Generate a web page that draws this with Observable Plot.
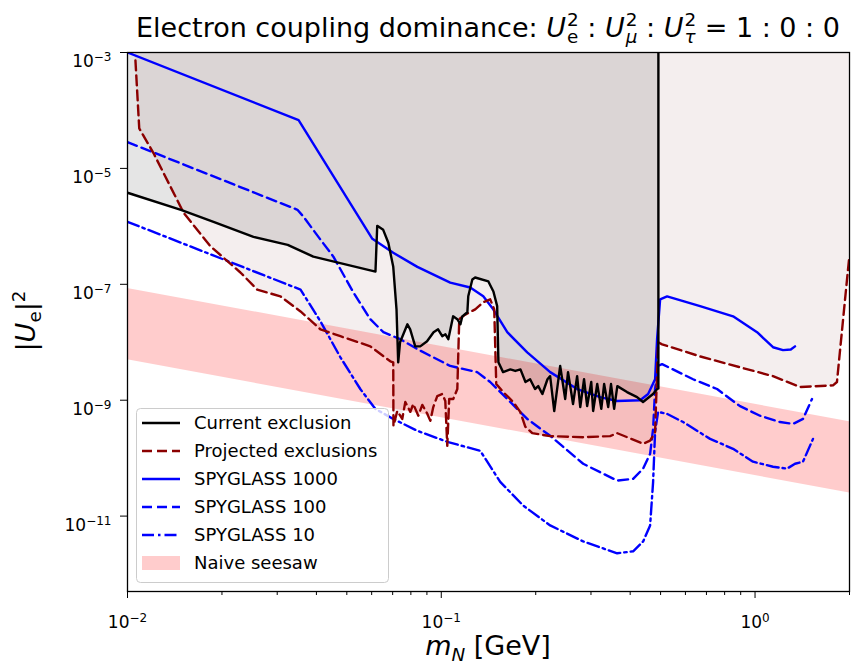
<!DOCTYPE html>
<html>
<head>
<meta charset="utf-8">
<script src="https://cdn.jsdelivr.net/npm/d3@7"></script>
<script src="https://cdn.jsdelivr.net/npm/@observablehq/plot@0.6"></script>
<style>
  html, body { margin: 0; padding: 0; background: white; }
  #wrap { position: relative; width: 852px; height: 668px; font-family: "DejaVu Sans", sans-serif; color: black; }
  .title { position: absolute; left: 127px; width: 722px; top: 11px; text-align: center; font-size: 27px; line-height: 32px; white-space: nowrap; }
  .it { font-style: italic; }
  .ss { display: inline-flex; flex-direction: column; font-size: 0.68em; line-height: 0.95; vertical-align: 0.58em; margin-left: 1px; text-align: left; }
  .ylab { position: absolute; left: 27px; top: 321px; transform: translate(-50%, -50%) rotate(-90deg); font-size: 27px; line-height: 32px; white-space: nowrap; }
  .xlab { position: absolute; left: 488px; top: 630px; transform: translateX(-50%); font-size: 27px; white-space: nowrap; line-height: 32px; }
  sub, sup { font-size: 0.68em; }
</style>
</head>
<body>
<div id="wrap">
  <div id="chart"></div>
  <div class="title">Electron coupling dominance: <span class="it">U</span><span class="ss"><span>2</span><span>e</span></span> : <span class="it">U</span><span class="ss"><span>2</span><span class="it">μ</span></span> : <span class="it">U</span><span class="ss"><span>2</span><span class="it">τ</span></span> = 1 : 0 : 0</div>
  <div class="ylab">|<span class="it">U</span><sub>e</sub>|<sup>2</sup></div>
  <div class="xlab"><span class="it">m</span><sub class="it">N</sub> [GeV]</div>
</div>
<script>
// ---- data ----
const yTop = 1e-3;

const currentExclusion = [
  [0.01, 3.8e-6], [0.0148, 1.93e-6], [0.0188, 1.2e-6], [0.0252, 6.6e-7], [0.0324, 4.8e-7],
  [0.0391, 3.0e-7], [0.0617, 1.66e-7], [0.0625, 1.02e-6], [0.0653, 8.7e-7], [0.0678, 5.2e-7],
  [0.0703, 2.0e-7], [0.0720, 3.7e-8], [0.0729, 4.5e-9], [0.0739, 1.0e-8], [0.0780, 2.04e-8],
  [0.0796, 1.67e-8], [0.0826, 8.5e-9], [0.0857, 8.5e-9], [0.0901, 1.04e-8], [0.0945, 1.49e-8],
  [0.0977, 1.67e-8], [0.1007, 1.27e-8], [0.1031, 1.37e-8], [0.1053, 1.13e-8], [0.1091, 2.8e-8],
  [0.1125, 2.5e-8], [0.1151, 2.04e-8], [0.1167, 2.8e-8], [0.1211, 3.3e-8], [0.1219, 6.2e-8],
  [0.1256, 1.21e-7], [0.1282, 1.31e-7], [0.1413, 1.12e-7], [0.1466, 7.5e-8], [0.1507, 4.2e-8],
  [0.1521, 4.5e-9], [0.1574, 3.05e-9], [0.166, 3.4e-9], [0.1722, 3.2e-9], [0.1788, 3.4e-9],
  [0.1855, 2.06e-9], [0.1919, 2.3e-9], [0.199, 1.56e-9], [0.2037, 1.75e-9], [0.21, 1.28e-9],
  [0.218, 2.3e-9], [0.2223, 2.6e-9], [0.2291, 6.5e-10], [0.2393, 3.9e-9], [0.2483, 1.05e-9],
  [0.2535, 3.05e-9], [0.263, 8.6e-10], [0.271, 2.6e-9], [0.2773, 7.6e-10], [0.2851, 2.3e-9],
  [0.2917, 7.9e-10], [0.3006, 2.06e-9], [0.3048, 6.5e-10], [0.3141, 1.9e-9], [0.3236, 7.1e-10],
  [0.3304, 1.9e-9], [0.3404, 7.6e-10], [0.3475, 1.9e-9], [0.3556, 7.1e-10], [0.364, 1.75e-9],
  [0.3908, 1.38e-9], [0.4207, 1.13e-9], [0.4395, 9.3e-10], [0.473, 1.28e-9], [0.4875, 1.56e-9],
  [0.492, 1.6e-9], [0.492, 1e-3]
];

const projectedExclusions = [
  [0.0106, 7.3e-4], [0.0109, 4.9e-5], [0.0121, 1.84e-5], [0.0151, 1.71e-6], [0.0184, 4.5e-7],
  [0.0229, 1.6e-7], [0.0259, 8.1e-8], [0.0307, 6.2e-8], [0.0356, 3.4e-8], [0.0412, 1.67e-8],
  [0.0477, 1.27e-8], [0.0594, 8.5e-9], [0.0688, 4.7e-9], [0.0703, 4.5e-9], [0.0704, 3.6e-10],
  [0.0724, 6.5e-10], [0.0751, 4.75e-10], [0.0768, 9.3e-10], [0.0797, 6.3e-10], [0.0814, 8.6e-10],
  [0.0845, 5.4e-10], [0.0870, 8.3e-10], [0.0903, 5.8e-10], [0.0923, 4.4e-10], [0.0943, 7.6e-10],
  [0.0971, 1.18e-9], [0.1007, 1.28e-9], [0.1030, 9.7e-10], [0.1045, 1.63e-10], [0.1060, 1.05e-9],
  [0.1092, 1.05e-9], [0.1125, 1.56e-9], [0.1141, 2.5e-8], [0.1192, 3.0e-8], [0.1283, 3.7e-8],
  [0.1361, 4.9e-8], [0.1432, 5.5e-8], [0.1475, 3.7e-8], [0.1497, 1.9e-9], [0.1576, 1.38e-9],
  [0.1696, 9.3e-10], [0.1785, 6.3e-10], [0.1852, 3.5e-10], [0.1950, 2.7e-10], [0.2224, 2.4e-10],
  [0.2833, 2.3e-10], [0.3452, 2.4e-10], [0.3635, 2.7e-10], [0.3912, 2.3e-10], [0.4399, 1.77e-10],
  [0.4630, 2.0e-10], [0.4802, 2.8e-10], [0.4910, 1.0e-8], [0.5055, 9.2e-9], [0.668, 5.7e-9],
  [0.896, 3.7e-9], [1.141, 2.6e-9], [1.391, 1.69e-9], [1.772, 1.8e-9], [1.824, 2.06e-9],
  [1.978, 1.8e-7], [1.995, 2.8e-7]
];

const spyglass1000 = [
  [0.01, 1e-3], [0.0351, 6.8e-5], [0.0603, 6.1e-7], [0.0703, 3.5e-7], [0.0839, 2.0e-7],
  [0.1068, 1.07e-7], [0.1237, 8.8e-8], [0.1361, 6.2e-8], [0.1464, 3.7e-8], [0.1623, 1.49e-8],
  [0.1879, 6.7e-9], [0.2224, 3.05e-9], [0.2711, 1.56e-9], [0.3209, 1.13e-9], [0.3635, 9.7e-10],
  [0.4303, 1.0e-9], [0.4563, 1.28e-9], [0.4802, 2.3e-9], [0.4873, 1.13e-8], [0.4983, 5.5e-8],
  [0.5245, 6.2e-8], [0.668, 4.2e-8], [0.851, 2.8e-8], [1.015, 1.49e-8], [1.141, 8.2e-9],
  [1.228, 7.3e-9], [1.30, 7.5e-9], [1.341, 8.5e-9]
];

const spyglass100 = [
  [0.01, 2.84e-5], [0.0348, 1.93e-6], [0.0364, 1.46e-6], [0.0412, 5.9e-7], [0.0453, 3.0e-7],
  [0.0525, 7.2e-8], [0.0594, 2.5e-8], [0.0654, 1.49e-8], [0.0740, 1.13e-8], [0.0839, 7.6e-9],
  [0.1068, 3.9e-9], [0.1302, 3.05e-9], [0.1432, 2.06e-9], [0.1623, 1.05e-9], [0.1879, 4.75e-10],
  [0.2224, 2.43e-10], [0.2833, 8.0e-11], [0.3635, 4.1e-11], [0.4088, 4.4e-11], [0.4399, 6.6e-11],
  [0.4630, 1.19e-10], [0.4733, 3.2e-10], [0.4802, 1.56e-9], [0.4910, 3.9e-9], [0.5055, 4.2e-9],
  [0.6347, 2.3e-9], [0.7568, 1.56e-9], [0.8957, 7.9e-10], [1.037, 5.4e-10], [1.201, 4.2e-10],
  [1.321, 3.9e-10], [1.422, 4.75e-10], [1.519, 1.05e-9]
];

const spyglass10 = [
  [0.01, 1.2e-6], [0.0356, 8.1e-8], [0.0412, 2.3e-8], [0.0477, 5.5e-9], [0.0552, 1.56e-9],
  [0.0616, 7.1e-10], [0.0703, 4.75e-10], [0.0839, 2.96e-10], [0.1045, 1.91e-10], [0.1331, 1.34e-10],
  [0.1541, 3.9e-11], [0.1824, 1.52e-11], [0.2224, 6.9e-12], [0.2833, 3.66e-12], [0.3635, 2.28e-12],
  [0.4088, 2.47e-12], [0.4399, 3.66e-12], [0.4630, 6.9e-12], [0.4733, 3.9e-11], [0.4802, 2.84e-10],
  [0.4910, 6.3e-10], [0.5245, 5.8e-10], [0.5898, 4.2e-10], [0.719, 2.15e-10], [0.851, 1.45e-10],
  [0.985, 8.7e-11], [1.141, 7.1e-11], [1.265, 6.6e-11], [1.341, 8.0e-11], [1.422, 8.7e-11],
  [1.530, 2.15e-10]
];

const seesawMass = [0.01, 2];
const seesawUpper = [8.5e-8, 4.25e-10];
const seesawLower = [5e-9, 2.5e-11];

const xMajorTicks = [0.01, 0.1, 1];
const xMinorTicks = [0.02, 0.03, 0.04, 0.05, 0.06, 0.07, 0.08, 0.09,
                     0.2, 0.3, 0.4, 0.5, 0.6, 0.7, 0.8, 0.9, 2];
const yMajorTicks = [1e-3, 1e-5, 1e-7, 1e-9, 1e-11];

const legendLabels = ["Current exclusion", "Projected exclusions", "SPYGLASS 1000", "SPYGLASS 100", "SPYGLASS 10", "Naive seesaw"];

// ---- styling ----
const BROWN = "#8b0000", BLUE = "#0000ff";
const DASH = "10,5", DASHDOT = "12,4,2.5,4";
const LW = 2.4;

const supMap = {"-": "⁻", "0": "⁰", "1": "¹", "2": "²", "3": "³", "4": "⁴", "5": "⁵", "6": "⁶", "7": "⁷", "8": "⁸", "9": "⁹"};
const unSup = Object.fromEntries(Object.entries(supMap).map(([k, v]) => [v, k === "-" ? "−" : k]));
const pow10 = d => "10" + String(Math.round(Math.log10(d))).split("").map(c => supMap[c]).join("");

const seesaw = seesawMass.map((m, i) => ({m, lo: seesawLower[i], hi: seesawUpper[i]}));
const X = d => d[0], Y = d => d[1];

const plot = Plot.plot({
  width: 852,
  height: 668,
  marginTop: 52,
  marginBottom: 77,
  marginLeft: 127,
  marginRight: 3,
  style: {fontFamily: "DejaVu Sans", fontSize: "17px", background: "transparent", color: "black"},
  x: {type: "log", domain: [0.01, 2]},
  y: {type: "log", domain: [5e-13, 1e-3]},
  marks: [
    Plot.areaY(projectedExclusions, {x: X, y1: Y, y2: () => yTop, fill: "#f4eeee", clip: true}),
    Plot.areaY(seesaw, {x: "m", y1: "lo", y2: "hi", fill: "red", fillOpacity: 0.2, clip: true}),
    Plot.areaY(currentExclusion, {x: X, y1: Y, y2: () => yTop, fill: "black", fillOpacity: 0.1, clip: true}),
    Plot.line(spyglass10, {x: X, y: Y, stroke: BLUE, strokeWidth: LW, strokeDasharray: DASHDOT, clip: true}),
    Plot.line(spyglass100, {x: X, y: Y, stroke: BLUE, strokeWidth: LW, strokeDasharray: DASH, clip: true}),
    Plot.line(spyglass1000, {x: X, y: Y, stroke: BLUE, strokeWidth: LW, clip: true}),
    Plot.line(projectedExclusions, {x: X, y: Y, stroke: BROWN, strokeWidth: LW, strokeDasharray: DASH, clip: true}),
    Plot.line(currentExclusion, {x: X, y: Y, stroke: "black", strokeWidth: LW, clip: true}),
    Plot.axisX(xMinorTicks, {tickSize: 4, tickFormat: () => "", label: null}),
    Plot.axisX(xMajorTicks, {tickSize: 7, tickPadding: 17, tickFormat: pow10, label: null, fontSize: 17}),
    Plot.axisY(yMajorTicks, {tickSize: 7, tickPadding: 9, tickFormat: pow10, label: null, fontSize: 17}),
    Plot.frame({stroke: "black", strokeWidth: 1.3})
  ]
});
document.getElementById("chart").appendChild(plot);

const svg = d3.select(plot);

// ---- power-of-ten tick labels with real superscripts ----
svg.selectAll("text").each(function() {
  const t = this.textContent;
  if (!/^10[⁻⁰¹²³⁴⁵⁶⁷⁸⁹]+$/.test(t)) return;
  const exp = t.slice(2).split("").map(c => unSup[c]).join("");
  const el = d3.select(this);
  const isY = el.attr("text-anchor") === "end" || (this.parentNode && this.parentNode.getAttribute("text-anchor") === "end");
  el.text(null);
  el.append("tspan").text("10");
  el.append("tspan").attr("font-size", 12).attr("dy", "-0.5em").text(exp);
  if (isY) el.attr("dy", "0.56em");
});

// ---- legend (inside the axes, lower left) ----
const lg = svg.append("g").attr("font-family", "DejaVu Sans").attr("font-size", 18).attr("text-anchor", "start");
lg.append("rect").attr("x", 136.5).attr("y", 408.5).attr("width", 252).attr("height", 174)
  .attr("rx", 4).attr("fill", "white").attr("fill-opacity", 0.8).attr("stroke", "#cccccc");
const legendStyles = [
  {stroke: "black", dash: null},
  {stroke: BROWN, dash: DASH},
  {stroke: BLUE, dash: null},
  {stroke: BLUE, dash: DASH},
  {stroke: BLUE, dash: DASHDOT},
  {swatch: true}
];
legendLabels.forEach((label, i) => {
  const cy = 423 + i * 28;
  const s = legendStyles[i];
  if (s.swatch) {
    lg.append("rect").attr("x", 142).attr("y", cy - 7).attr("width", 38).attr("height", 14)
      .attr("fill", "red").attr("fill-opacity", 0.2);
  } else {
    lg.append("line").attr("x1", 142).attr("x2", 180).attr("y1", cy).attr("y2", cy)
      .attr("stroke", s.stroke).attr("stroke-width", LW).attr("stroke-dasharray", s.dash);
  }
  lg.append("text").attr("x", 194).attr("y", cy).attr("dy", "0.35em").attr("fill", "black").attr("text-anchor", "start").text(label);
});
</script>
</body>
</html>
